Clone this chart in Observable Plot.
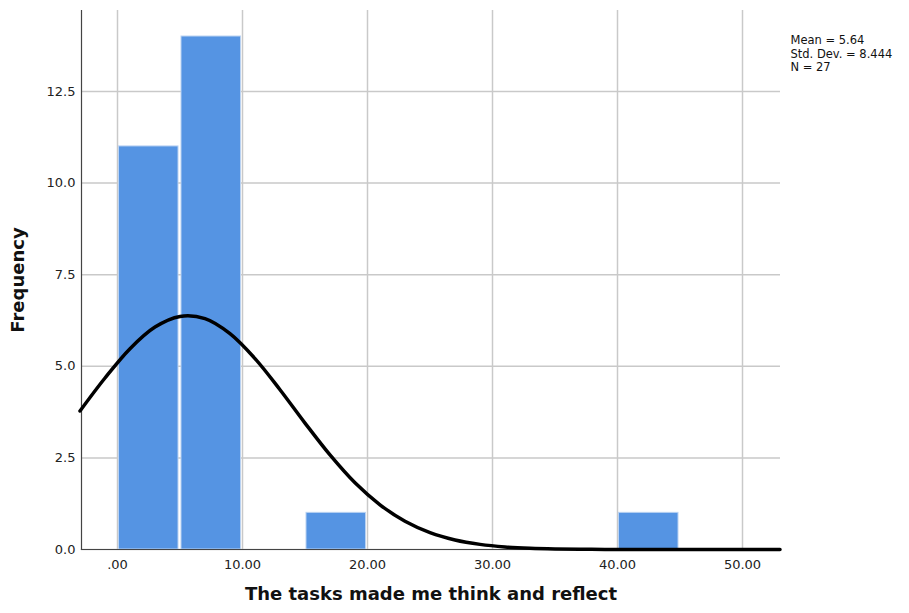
<!DOCTYPE html>
<html>
<head>
<meta charset="utf-8">
<script src="https://cdn.jsdelivr.net/npm/d3@7"></script>
<script src="https://cdn.jsdelivr.net/npm/@observablehq/plot@0.6"></script>
<style>
  html, body { margin: 0; padding: 0; background: #fff; }
  #chart { width: 909px; height: 613px; }
</style>
</head>
<body>
<div id="chart"></div>
<script>
// Histogram bins (lower edge, upper edge, count)
const binStart = [0, 5, 15, 40];
const binEnd = [5, 10, 20, 45];
const counts = [11, 14, 1, 1];

// Normal curve points (Mean = 5.64, SD = 8.444, N = 27)
const curveX = [-3, -1, 1, 3, 5, 7, 9, 11, 13, 15, 17, 19, 21, 23, 25, 27, 29, 31, 33, 35, 37, 39, 41, 43, 45, 47, 49, 51, 53];
const curveY = [3.78, 4.68, 5.48, 6.07, 6.36, 6.30, 5.89, 5.21, 4.36, 3.45, 2.58, 1.82, 1.22, 0.77, 0.46, 0.26, 0.14, 0.07, 0.034, 0.015, 0.006, 0.003, 0.001, 0, 0, 0, 0, 0, 0];

const xTicks = [0, 10, 20, 30, 40, 50];
const yTicks = [0, 2.5, 5, 7.5, 10, 12.5];

const xTitle = "The tasks made me think and reflect";
const yTitle = "Frequency";
const statsText = ["Mean = 5.64", "Std. Dev. = 8.444", "N = 27"];

const bins = binStart.map((s, i) => ({x1: s, x2: binEnd[i], y: counts[i]}));
const curve = curveX.map((x, i) => ({x, y: curveY[i]}));

const font = "DejaVu Sans, sans-serif";

const chart = Plot.plot({
  width: 909,
  height: 613,
  marginLeft: 81,
  marginRight: 129,
  marginTop: 10,
  marginBottom: 64,
  style: {fontFamily: font, background: "#fff", color: "#222"},
  x: {domain: [-2.88, 53.04]},
  y: {domain: [0, 14.71]},
  marks: [
    Plot.gridX(xTicks, {stroke: "#c9c9c9", strokeOpacity: 1, strokeWidth: 1.5}),
    Plot.gridY(yTicks, {stroke: "#c9c9c9", strokeOpacity: 1, strokeWidth: 1.5}),
    Plot.rectY(bins, {x1: "x1", x2: "x2", y: "y", fill: "#5594e3", stroke: "#b9d2f2", strokeWidth: 1, insetLeft: 1.5, insetRight: 1.5}),
    Plot.frame({anchor: "left", stroke: "#444", strokeWidth: 1.2}),
    Plot.frame({anchor: "bottom", stroke: "#444", strokeWidth: 1.2}),
    Plot.line(curve, {x: "x", y: "y", curve: "catmull-rom", stroke: "#000", strokeWidth: 3.5}),
    Plot.axisX(xTicks, {tickSize: 0, tickPadding: 10, fontSize: 13, fill: "#222", label: null,
      tickFormat: d => d === 0 ? ".00" : d.toFixed(2)}),
    Plot.axisY(yTicks, {tickSize: 0, tickPadding: 6, fontSize: 13, fill: "#222", label: null,
      tickFormat: d => d.toFixed(1)}),
    Plot.text([xTitle], {frameAnchor: "bottom", textAnchor: "middle", dy: 50, fontSize: 18, fontWeight: "bold", fill: "#111"}),
    Plot.text([yTitle], {frameAnchor: "left", textAnchor: "middle", rotate: -90, dx: -63, fontSize: 18, fontWeight: "bold", fill: "#111"}),
    Plot.text([statsText.join("\n")], {frameAnchor: "top-right", textAnchor: "start", lineAnchor: "top",
      dx: 10, dy: 24, fontSize: 11.5, lineHeight: 1.18, fill: "#111"})
  ]
});

document.getElementById("chart").appendChild(chart);
</script>
</body>
</html>
